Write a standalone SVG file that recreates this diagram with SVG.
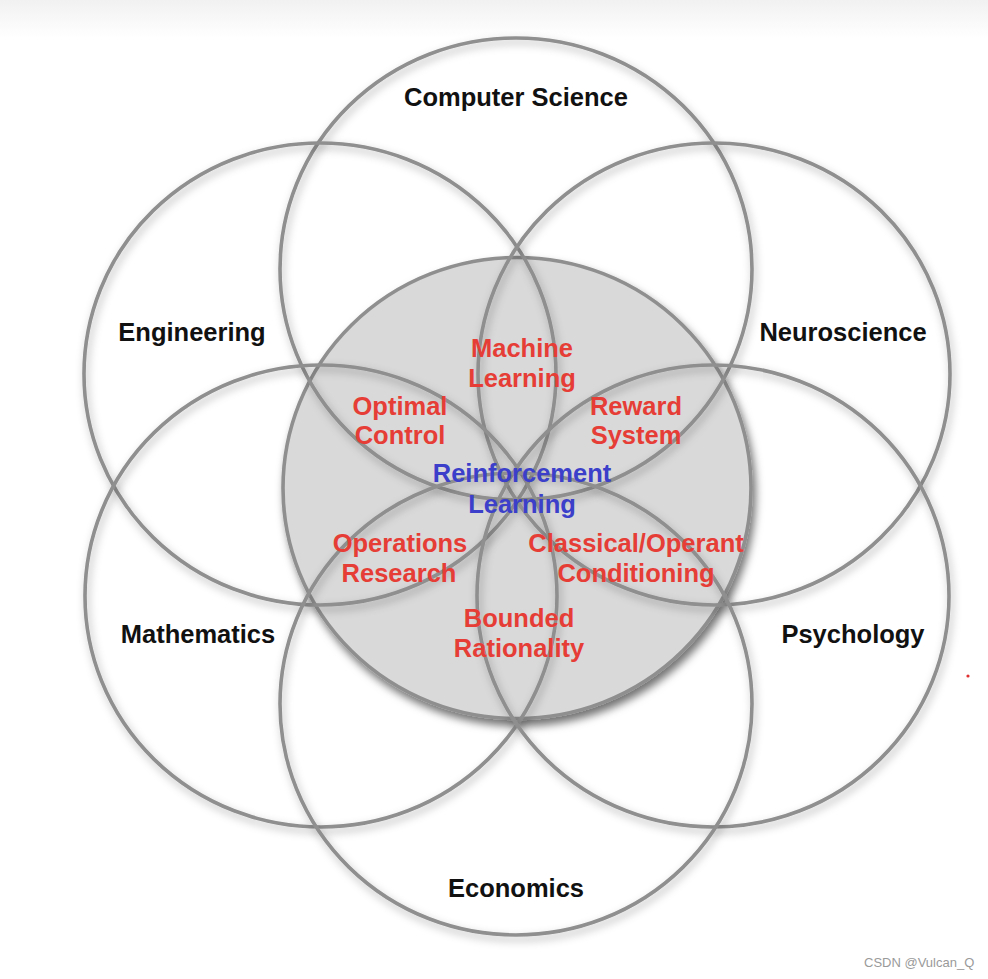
<svg xmlns="http://www.w3.org/2000/svg" width="988" height="979" viewBox="0 0 988 979">
  <defs>
    <linearGradient id="topband" x1="0" y1="0" x2="0" y2="1">
      <stop offset="0" stop-color="#f1f1f1"/>
      <stop offset="1" stop-color="#ffffff"/>
    </linearGradient>
    <filter id="ringShadow" x="-10%" y="-10%" width="125%" height="125%">
      <feDropShadow dx="2" dy="4" stdDeviation="4.5" flood-color="#000" flood-opacity="0.3"/>
    </filter>
    <filter id="coreShadow" x="-10%" y="-10%" width="125%" height="125%">
      <feDropShadow dx="3" dy="6" stdDeviation="4" flood-color="#000" flood-opacity="0.55"/>
    </filter>
    <style>
      .ring { fill: none; stroke: #8f8f8f; stroke-width: 3.6; }
      .core { fill: #d9d9d9; stroke: #8f8f8f; stroke-width: 3.6; }
      text { font-family: "Liberation Sans", Arial, Helvetica, sans-serif; font-weight: bold; font-size: 25.5px; text-anchor: middle; }
      .field { fill: #111111; }
      .overlap { fill: #e63d36; }
      .rl { fill: #3b3fc9; }
      .mark { font-weight: normal; font-size: 13px; fill: #9a9a9a; text-anchor: start; }
    </style>
  </defs>

  <rect x="0" y="0" width="988" height="979" fill="#ffffff"/>
  <rect x="0" y="0" width="988" height="38" fill="url(#topband)"/>

  <g id="core">
    <ellipse class="core" cx="517" cy="488" rx="234" ry="230.5" filter="url(#coreShadow)"/>
  </g>

  <g id="computer-science">
    <ellipse class="ring" cx="516" cy="269" rx="236" ry="231" filter="url(#ringShadow)"/>
    <text class="field" x="516" y="106">Computer Science</text>
  </g>
  <g id="engineering">
    <ellipse class="ring" cx="320" cy="374" rx="236" ry="231" filter="url(#ringShadow)"/>
    <text class="field" x="192" y="341">Engineering</text>
  </g>
  <g id="neuroscience">
    <ellipse class="ring" cx="714" cy="374" rx="236" ry="231" filter="url(#ringShadow)"/>
    <text class="field" x="843" y="341">Neuroscience</text>
  </g>
  <g id="mathematics">
    <ellipse class="ring" cx="321" cy="596" rx="236" ry="231" filter="url(#ringShadow)"/>
    <text class="field" x="198" y="643">Mathematics</text>
  </g>
  <g id="psychology">
    <ellipse class="ring" cx="713" cy="596" rx="236" ry="231" filter="url(#ringShadow)"/>
    <text class="field" x="853" y="643">Psychology</text>
  </g>
  <g id="economics">
    <ellipse class="ring" cx="516" cy="704" rx="236" ry="231" filter="url(#ringShadow)"/>
    <text class="field" x="516" y="897">Economics</text>
  </g>

  <g id="machine-learning">
    <text class="overlap" x="522" y="357">Machine</text>
    <text class="overlap" x="522" y="387">Learning</text>
  </g>
  <g id="optimal-control">
    <text class="overlap" x="400" y="415">Optimal</text>
    <text class="overlap" x="400" y="444">Control</text>
  </g>
  <g id="reward-system">
    <text class="overlap" x="636" y="415">Reward</text>
    <text class="overlap" x="636" y="444">System</text>
  </g>
  <g id="reinforcement-learning">
    <text class="rl" x="522" y="482">Reinforcement</text>
    <text class="rl" x="522" y="513">Learning</text>
  </g>
  <g id="operations-research">
    <text class="overlap" x="400" y="552">Operations</text>
    <text class="overlap" x="399" y="582">Research</text>
  </g>
  <g id="classical-operant-conditioning">
    <text class="overlap" x="636" y="552">Classical/Operant</text>
    <text class="overlap" x="636" y="582">Conditioning</text>
  </g>
  <g id="bounded-rationality">
    <text class="overlap" x="519" y="627">Bounded</text>
    <text class="overlap" x="519" y="657">Rationality</text>
  </g>

  <g id="connectors"></g>

  <circle cx="968" cy="676" r="1.6" fill="#e03030"/>
  <text class="mark" x="864" y="967">CSDN @Vulcan_Q</text>
</svg>
